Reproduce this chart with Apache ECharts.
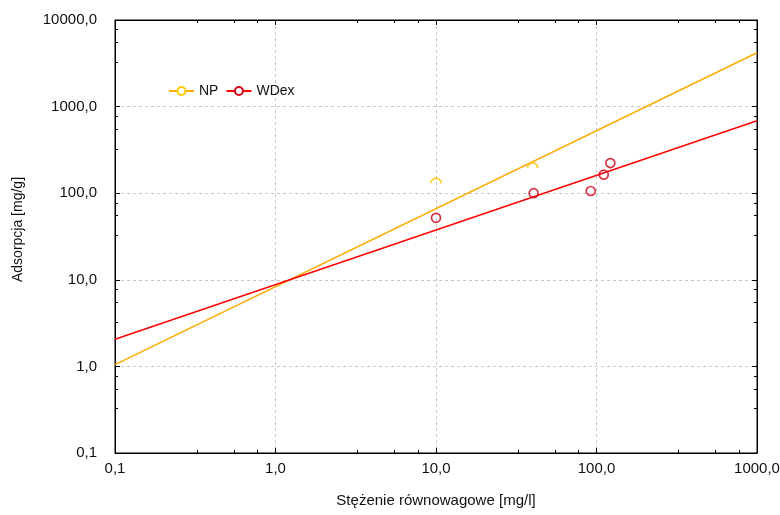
<!DOCTYPE html>
<html>

<head>
    <meta charset="UTF-8">
    <title>echarts-adsorpcja</title>
    <script src="https://cdn.jsdelivr.net/npm/echarts@6/dist/echarts.min.js"></script>
</head>

<body style="margin:0;">
    <div id="chartBox" style="width: 780px;height:515px;"></div>

    <script>
        // punkty pomiarowe
        var npPoints = [[10, 130], [40, 195]];
        var wdexPoints = [[10, 52], [40.6, 100], [92, 106], [111, 164], [122, 223]];

        // linie dopasowania (końce na krawędziach wykresu)
        var npFit = [[0.1, 1.05], [1000, 4190]];
        var wdexFit = [[0.1, 2.06], [1000, 687]];

        var xTicks = [0.1, 1, 10, 100, 1000];
        var yTicks = [0.1, 1, 10, 100, 1000, 10000];

        var font = 'Liberation Sans';

        function fmt(v) {
            return v.toFixed(1).replace('.', ',');
        }

        var myChart = echarts.init(document.getElementById('chartBox'));

        var baseX = {
            type: 'log',
            logBase: 10,
            min: xTicks[0],
            max: xTicks[xTicks.length - 1],
            axisLine: { show: true, onZero: false, lineStyle: { color: '#000', width: 1 } },
            axisTick: { show: true, inside: true, length: 5, lineStyle: { color: '#000' } },
            minorTick: { show: true, splitNumber: 4, length: 3, lineStyle: { color: '#000' } }
        };
        var baseY = {
            type: 'log',
            logBase: 10,
            min: yTicks[0],
            max: yTicks[yTicks.length - 1],
            axisLine: { show: true, onZero: false, lineStyle: { color: '#000', width: 1 } },
            axisTick: { show: true, inside: true, length: 5, lineStyle: { color: '#000' } },
            minorTick: { show: true, splitNumber: 4, length: 3, lineStyle: { color: '#000' } }
        };

        // pół okręgu (górna połowa) dla punktów NP
        var halfArc = Math.PI * 5;

        var option = {
            backgroundColor: '#fff',
            animation: false,
            textStyle: { fontFamily: font },
            grid: {
                left: 115,
                right: 23,
                top: 20,
                bottom: 62,
                outerBoundsMode: 'none',
                containLabel: false,
                show: true,
                borderColor: '#000',
                borderWidth: 1
            },
            legend: {
                left: 163,
                top: 79,
                itemWidth: 25,
                itemHeight: 10,
                itemGap: 7,
                textStyle: { fontFamily: font, fontSize: 14, color: '#111' },
                data: ['NP', 'WDex']
            },
            xAxis: [
                Object.assign({}, baseX, {
                    position: 'bottom',
                    name: 'Stężenie równowagowe [mg/l]',
                    nameLocation: 'middle',
                    nameGap: 40,
                    nameTextStyle: { fontFamily: font, fontSize: 15, color: '#111' },
                    axisLabel: { margin: 8, fontSize: 15, color: '#111', fontFamily: font, formatter: fmt },
                    splitLine: { show: true, lineStyle: { color: '#c8c8c8', type: [3, 3] } }
                }),
                Object.assign({}, baseX, {
                    position: 'top',
                    axisLabel: { show: false },
                    splitLine: { show: false }
                })
            ],
            yAxis: [
                Object.assign({}, baseY, {
                    position: 'left',
                    name: 'Adsorpcja [mg/g]',
                    nameLocation: 'middle',
                    nameGap: 90,
                    nameTextStyle: { fontFamily: font, fontSize: 14, color: '#111', padding: [0, 0, 0, 14] },
                    axisLabel: { margin: 18, fontSize: 15, color: '#111', fontFamily: font, formatter: fmt },
                    splitLine: { show: true, lineStyle: { color: '#c8c8c8', type: [3, 3] } }
                }),
                Object.assign({}, baseY, {
                    position: 'right',
                    axisLabel: { show: false },
                    splitLine: { show: false }
                })
            ],
            series: [
                {
                    name: 'NP',
                    type: 'line',
                    data: npFit,
                    color: '#FFAA00',
                    symbol: 'emptyCircle',
                    symbolSize: 8,
                    showSymbol: false,
                    lineStyle: { width: 1.5, color: '#FFAA00' },
                    itemStyle: { color: '#FFCC00', borderWidth: 1.5 },
                    z: 2
                },
                {
                    name: 'WDex',
                    type: 'line',
                    data: wdexFit,
                    color: '#FF0000',
                    symbol: 'emptyCircle',
                    symbolSize: 8,
                    showSymbol: false,
                    lineStyle: { width: 1.5, color: '#FF0000' },
                    itemStyle: { color: '#D0001A', borderWidth: 1.5 },
                    z: 2
                },
                {
                    name: 'NP punkty',
                    type: 'scatter',
                    data: npPoints,
                    symbol: 'circle',
                    symbolSize: 10,
                    itemStyle: {
                        color: 'rgba(0,0,0,0)',
                        borderColor: '#FFC400',
                        borderWidth: 2,
                        borderType: [halfArc, halfArc],
                        borderDashOffset: halfArc
                    },
                    z: 3
                },
                {
                    name: 'WDex punkty',
                    type: 'scatter',
                    data: wdexPoints,
                    symbol: 'circle',
                    symbolSize: 9,
                    itemStyle: { color: 'rgba(255,255,255,0)', borderColor: '#D0001A', borderWidth: 1.7 },
                    z: 3
                }
            ]
        };

        myChart.setOption(option);
    </script>

</body>

</html>
